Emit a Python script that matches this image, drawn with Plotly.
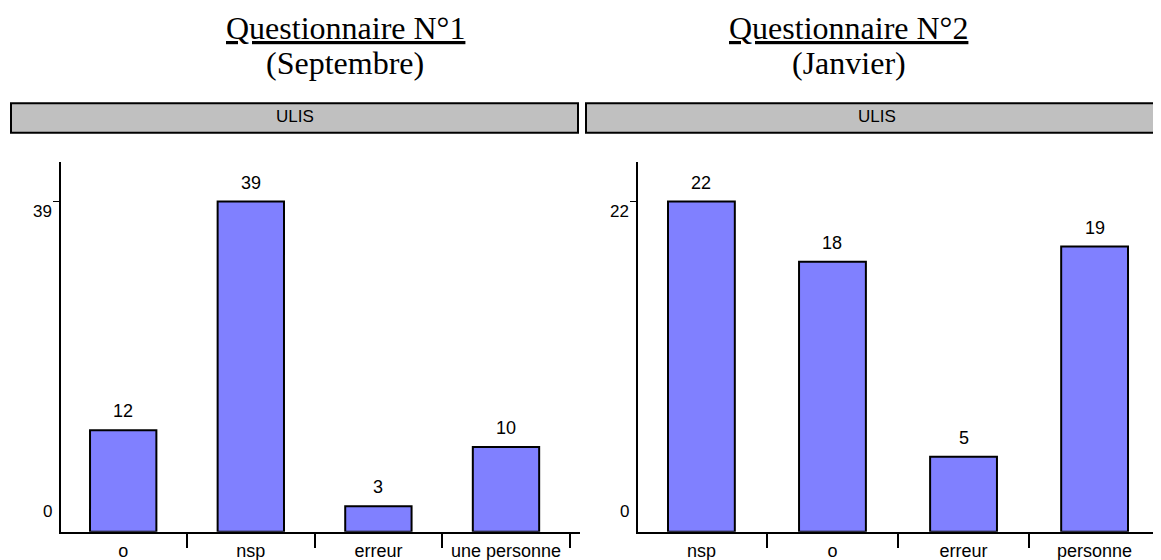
import plotly.graph_objects as go

# ---- data ----
categories_1 = ["o", "nsp", "erreur", "une personne"]
values_1 = [12, 39, 3, 10]
categories_2 = ["nsp", "o", "erreur", "personne"]
values_2 = [22, 18, 5, 19]
titles = ["Questionnaire N°1", "Questionnaire N°2"]
subtitles = ["(Septembre)", "(Janvier)"]
strip_labels = ["ULIS", "ULIS"]

W, H = 1161, 560
OFF = 8  # page body margin of the html page
SANS = "Liberation Sans, Arial, sans-serif"
SERIF = "Liberation Serif, Times New Roman, serif"
BAR = "#8080FF"


def fx(p):
    return (p - OFF) / W


def fy(p):
    return 1 - (p - OFF) / H


fig = go.Figure()

panels = [
    dict(cats=categories_1, vals=values_1, xa="x", ya="y",
         dom=[fx(61), fx(580)], rng=[-0.4875, 3.58], width=0.52,
         strip=[fx(11), fx(578)], strip_c=fx(294.5), title_c=fx(345)),
    dict(cats=categories_2, vals=values_2, xa="x2", ya="y2",
         dom=[fx(637.7), fx(1168)], rng=[-0.486, 3.56], width=0.51,
         strip=[fx(586), fx(1180)], strip_c=fx(877), title_c=fx(848.5)),
]

annotations = []
shapes = []
for i, p in enumerate(panels):
    fig.add_trace(go.Bar(
        x=p["cats"], y=p["vals"], xaxis=p["xa"], yaxis=p["ya"],
        width=p["width"],
        marker=dict(color=BAR, line=dict(color="black", width=2)),
        showlegend=False, hoverinfo="x+y",
    ))
    suffix = "" if i == 0 else str(i + 1)
    ymax = max(p["vals"])
    fig.layout["xaxis" + suffix] = dict(
        domain=p["dom"], anchor=p["ya"], type="category",
        categoryorder="array", categoryarray=p["cats"],
        range=p["rng"], showline=True, linecolor="black", linewidth=2,
        ticks="outside", tickson="boundaries", ticklen=14, tickwidth=2,
        tickcolor="black", showgrid=False, zeroline=False,
        tickfont=dict(family=SANS, size=18, color="black"),
        ticklabelstandoff=2, fixedrange=True,
    )
    fig.layout["yaxis" + suffix] = dict(
        domain=[fy(531.7), fy(162)], anchor=p["xa"],
        range=[0, ymax * 1.12], showline=True, linecolor="black",
        linewidth=2, ticks="outside", tickvals=[ymax], ticklen=6,
        tickwidth=1, tickcolor="black", showticklabels=False,
        showgrid=False, zeroline=False, fixedrange=True,
    )
    # y tick labels (0 and max), offset as in the reference
    for val, shift in [(0, 20), (ymax, -10)]:
        annotations.append(dict(
            xref=p["xa"] + " domain", yref=p["ya"], x=0, y=val,
            text=str(val), showarrow=False, xanchor="right", yanchor="middle",
            xshift=-7, yshift=shift,
            font=dict(family=SANS, size=17, color="black"),
        ))
    # value labels
    for c, v in zip(p["cats"], p["vals"]):
        annotations.append(dict(
            xref=p["xa"], yref=p["ya"], x=c, y=v, text=str(v),
            showarrow=False, yanchor="middle", yshift=19,
            font=dict(family=SANS, size=18, color="black"),
        ))
    # strip header
    shapes.append(dict(
        type="rect", xref="paper", yref="paper",
        x0=p["strip"][0], x1=p["strip"][1], y0=fy(132.7), y1=fy(103.3),
        fillcolor="#C0C0C0", line=dict(color="black", width=2),
    ))
    annotations.append(dict(
        xref="paper", yref="paper", x=p["strip_c"], y=fy(117),
        text=strip_labels[i], showarrow=False, xanchor="center",
        yanchor="middle", font=dict(family=SANS, size=17, color="black"),
    ))
    # titles
    annotations.append(dict(
        xref="paper", yref="paper", x=p["title_c"], y=fy(28.5),
        text="<u>" + titles[i] + "</u>", showarrow=False, xanchor="center",
        yanchor="middle", font=dict(family=SERIF, size=32, color="black"),
    ))
    annotations.append(dict(
        xref="paper", yref="paper", x=p["title_c"], y=fy(63.2),
        text=subtitles[i], showarrow=False, xanchor="center",
        yanchor="middle", font=dict(family=SERIF, size=32, color="black"),
    ))

fig.update_layout(
    width=W, height=H, margin=dict(l=0, r=0, t=0, b=0),
    paper_bgcolor="white", plot_bgcolor="white",
    annotations=annotations, shapes=shapes, bargap=0.48,
)

fig.write_html("out.html")
